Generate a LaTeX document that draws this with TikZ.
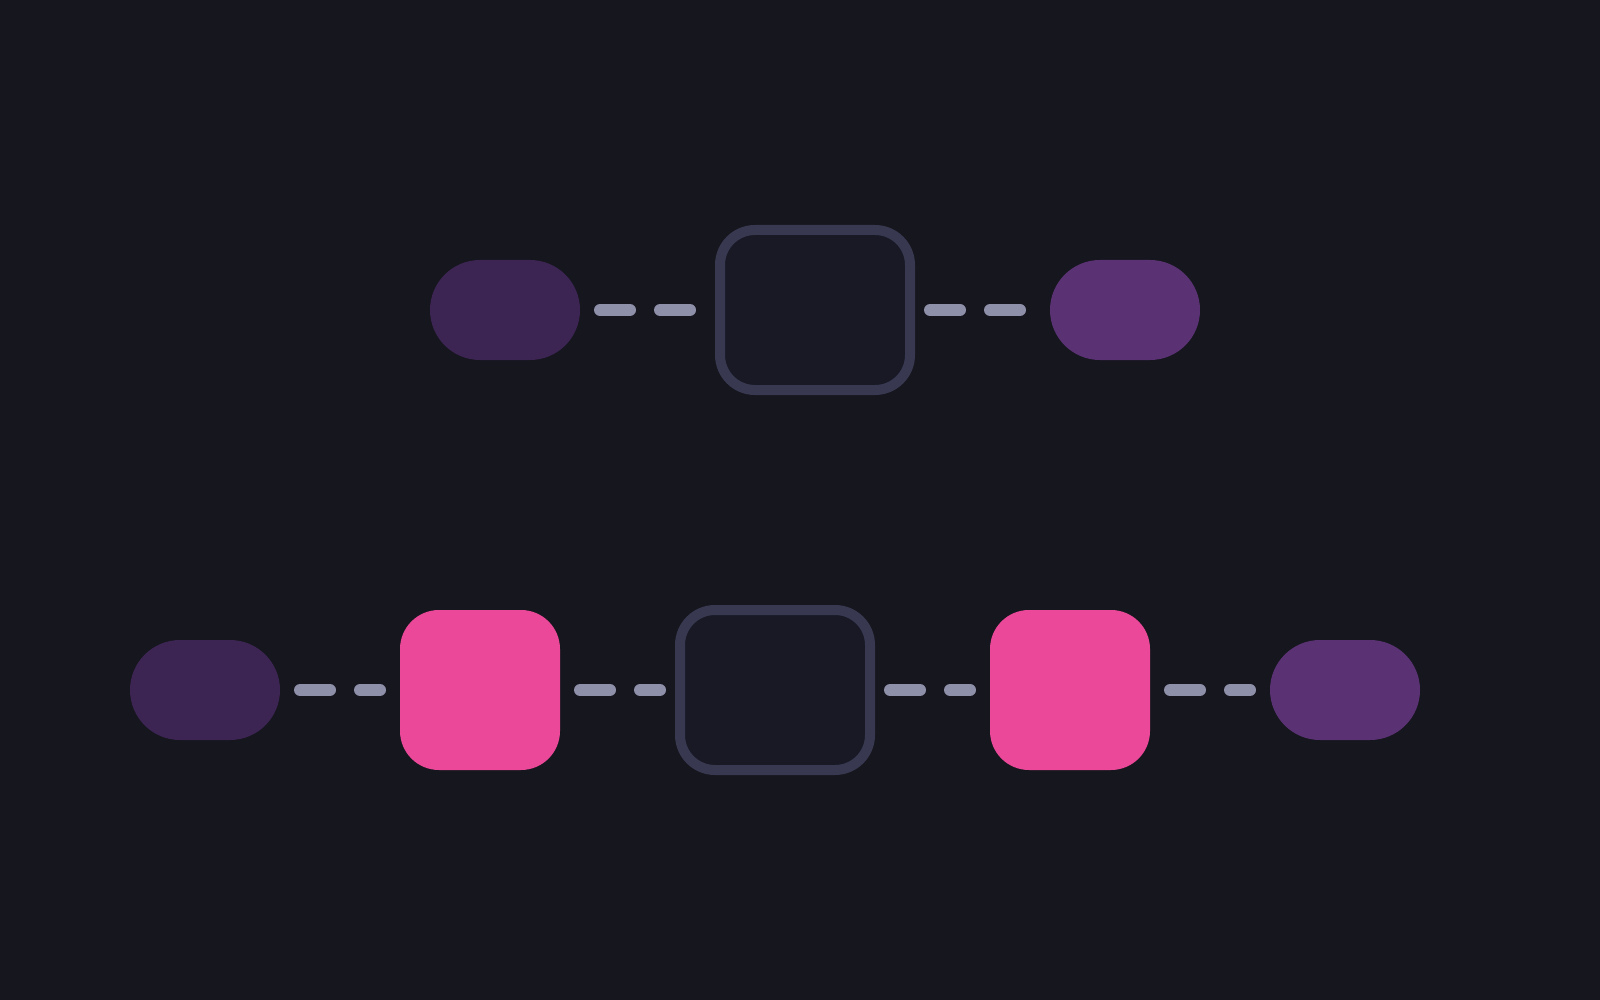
\documentclass[tikz,border=0pt]{standalone}
\definecolor{bg}{HTML}{16161E}
\definecolor{boxfill}{HTML}{181925}
\definecolor{boxline}{HTML}{383951}
\definecolor{pdark}{HTML}{3C2453}
\definecolor{plight}{HTML}{5A3273}
\definecolor{pink}{HTML}{EB4899}
\definecolor{dashc}{HTML}{8E8FA8}
\begin{document}
\begin{tikzpicture}[x=1pt,y=-1pt,
  pill/.style={rectangle,rounded corners=50pt,minimum width=150pt,minimum height=100pt,inner sep=0pt,outer sep=0pt},
  pilldark/.style={pill,fill=pdark},
  pilllight/.style={pill,fill=plight},
  pinkbox/.style={rectangle,rounded corners=39pt,minimum width=160pt,minimum height=160pt,inner sep=0pt,outer sep=0pt,fill=pink},
  hollow/.style={rectangle,rounded corners=35pt,minimum width=190pt,minimum height=160pt,inner sep=0pt,outer sep=5pt,line width=10pt,draw=boxline,fill=boxfill},
  link/.style={draw=dashc,line width=12pt,line cap=round,dash pattern=on 30pt off 30pt}]
\useasboundingbox[fill=bg] (0,0) rectangle (1600,1000);
% top row
\node[pilldark] (t1) at (505,310) {};
\node[hollow] (t2) at (815,310) {};
\node[pilllight] (t3) at (1125,310) {};
\draw[link,shorten <=20pt,shorten >=25pt] (t1.east) -- (t2.west);
\draw[link,shorten <=15pt,shorten >=30pt] (t2.east) -- (t3.west);
% bottom row
\node[pilldark] (b1) at (205,690) {};
\node[pinkbox] (b2) at (480,690) {};
\node[hollow] (b3) at (775,690) {};
\node[pinkbox] (b4) at (1070,690) {};
\node[pilllight] (b5) at (1345,690) {};
\draw[link,shorten <=20pt,shorten >=20pt] (b1.east) -- (b2.west);
\draw[link,shorten <=20pt,shorten >=15pt] (b2.east) -- (b3.west);
\draw[link,shorten <=15pt,shorten >=20pt] (b3.east) -- (b4.west);
\draw[link,shorten <=20pt,shorten >=20pt] (b4.east) -- (b5.west);
\end{tikzpicture}
\end{document}
